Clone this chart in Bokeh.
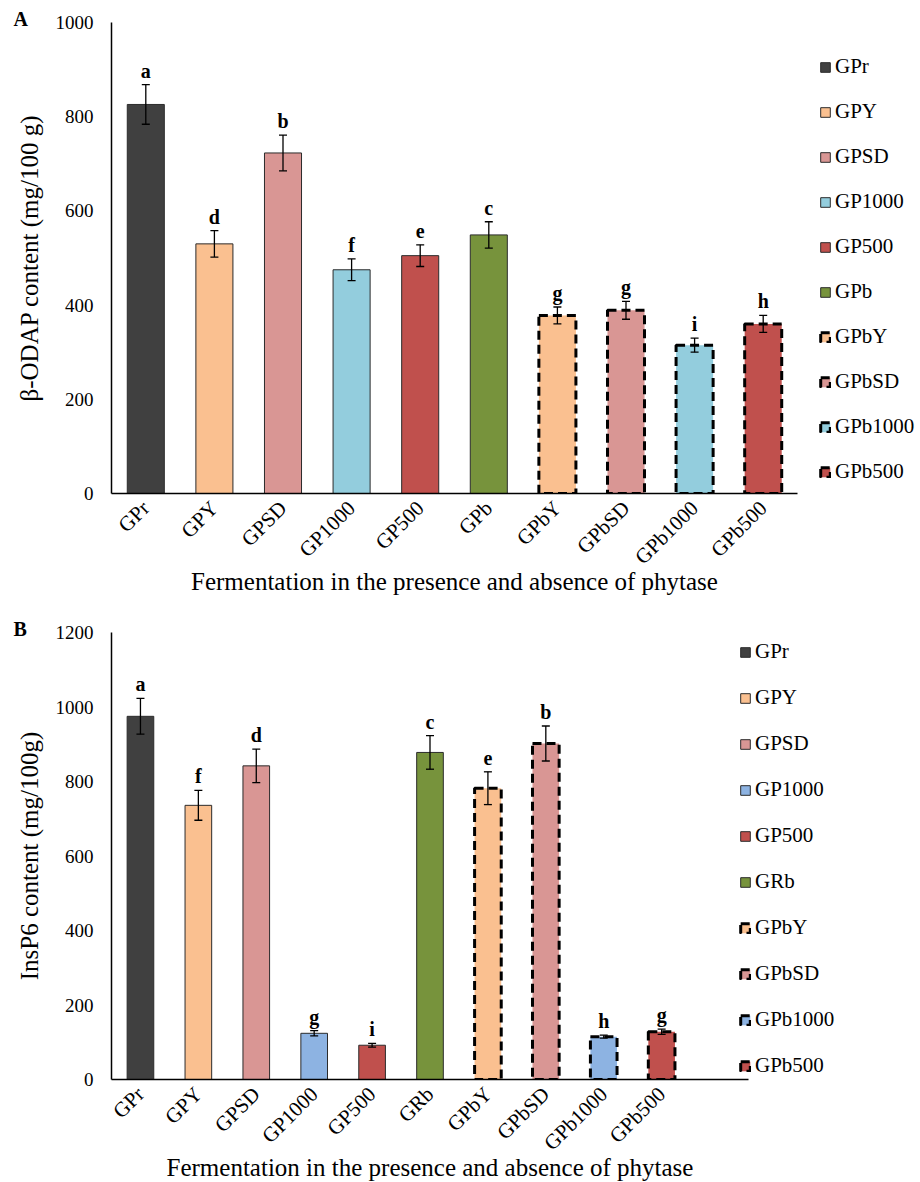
import math
from bokeh.plotting import figure
from bokeh.models import (ColumnDataSource, Range1d, FixedTicker, Whisker, TeeHead,
                          Legend, LegendItem, Title)
from bokeh.layouts import column
from bokeh.embed import file_html
from bokeh.resources import INLINE
from bokeh.core.properties import value

# ---------------- data ----------------
categories_a = ["GPr", "GPY", "GPSD", "GP1000", "GP500", "GPb", "GPbY", "GPbSD", "GPb1000", "GPb500"]
odap_values = [826, 530, 723, 475, 505, 549, 378, 389, 315, 360]
odap_errors = [42, 28, 38, 23, 23, 28, 18, 19, 15, 18]
odap_letters = ["a", "d", "b", "f", "e", "c", "g", "g", "i", "h"]

categories_b = ["GPr", "GPY", "GPSD", "GP1000", "GP500", "GRb", "GPbY", "GPbSD", "GPb1000", "GPb500"]
insp6_values = [975, 736, 842, 124, 92, 878, 782, 902, 115, 128]
insp6_errors = [48, 40, 45, 7, 5, 45, 44, 47, 4, 7]
insp6_letters = ["a", "f", "d", "g", "i", "c", "e", "b", "h", "g"]

colors_a = ["#404040", "#FAC090", "#D99694", "#93CDDD", "#C0504D", "#77933C",
            "#FAC090", "#D99694", "#93CDDD", "#C0504D"]
colors_b = ["#404040", "#FAC090", "#D99694", "#8DB3E2", "#C0504D", "#77933C",
            "#FAC090", "#D99694", "#8DB3E2", "#C0504D"]
with_phytase = [False, False, False, False, False, False, True, True, True, True]

FONT = "Liberation Serif"
PAGE_W = 920
LEFT = 111


def make_chart(cats, vals, errs, letters, colors, ymax, ylabel, panel,
               frame_w, frame_h, n_slots, bar_w, min_top, leg_x, leg_top, leg_spacing):
    n = len(cats)
    xs = list(range(1, n + 1))
    data = dict(
        x=xs, top=vals, err=errs,
        upper=[v + e for v, e in zip(vals, errs)],
        lower=[v - e for v, e in zip(vals, errs)],
        letter=letters, color=colors, name=cats,
    )
    src = ColumnDataSource(data)
    solid_idx = [i for i in range(n) if not with_phytase[i]]
    dash_idx = [i for i in range(n) if with_phytase[i]]
    src_solid = ColumnDataSource({k: [v[i] for i in solid_idx] for k, v in data.items()})
    src_dash = ColumnDataSource({k: [v[i] for i in dash_idx] for k, v in data.items()})

    p = figure(frame_width=frame_w, frame_height=frame_h,
               x_range=Range1d(0.5, n_slots + 0.5), y_range=Range1d(0, ymax),
               output_backend="svg", toolbar_location=None,
               min_border_left=LEFT, min_border_right=PAGE_W - LEFT - frame_w,
               min_border_top=min_top, min_border_bottom=0)
    p.outline_line_color = None
    p.xgrid.grid_line_color = None
    p.ygrid.grid_line_color = None
    p.background_fill_color = "white"
    p.border_fill_color = "white"

    r_solid = p.vbar(x="x", top="top", width=bar_w, bottom=0, source=src_solid,
                     fill_color="color", line_color="#2b2b2b", line_width=1)
    r_dash = p.vbar(x="x", top="top", width=bar_w, bottom=0, source=src_dash,
                    fill_color="color", line_color="black", line_width=3,
                    line_dash="9 5")

    wk = Whisker(base="x", upper="upper", lower="lower", source=src,
                 line_color="black", line_width=1.3,
                 upper_head=TeeHead(size=8, line_color="black", line_width=1.3),
                 lower_head=TeeHead(size=8, line_color="black", line_width=1.3))
    wk.level = "annotation"
    p.add_layout(wk)

    p.text(x="x", y="upper", text="letter", source=src,
           text_font=value(FONT), text_font_style="bold", text_font_size="20px",
           text_align="center", text_baseline="alphabetic", y_offset=-14,
           text_color="black")

    # axes
    xa = p.xaxis[0]
    xa.ticker = FixedTicker(ticks=xs)
    xa.major_label_overrides = {x: c for x, c in zip(xs, cats)}
    xa.major_label_orientation = math.pi / 4
    xa.major_tick_line_color = None
    xa.major_tick_out = 0
    xa.major_tick_in = 0
    xa.minor_tick_line_color = None
    xa.axis_line_color = "black"
    xa.axis_line_width = 1.5
    xa.major_label_text_font = FONT
    xa.major_label_text_font_size = "21px"
    xa.major_label_text_color = "black"
    xa.major_label_standoff = 11
    xa.axis_label = "Fermentation in the presence and absence of phytase"
    xa.axis_label_text_font = FONT
    xa.axis_label_text_font_size = "25px"
    xa.axis_label_text_font_style = "normal"
    xa.axis_label_text_color = "black"
    xa.axis_label_standoff = -13

    ya = p.yaxis[0]
    ya.ticker = FixedTicker(ticks=list(range(0, ymax + 1, 200)))
    ya.major_tick_line_color = None
    ya.major_tick_out = 0
    ya.major_tick_in = 0
    ya.minor_tick_line_color = None
    ya.axis_line_color = "black"
    ya.axis_line_width = 1.5
    ya.major_label_text_font = FONT
    ya.major_label_text_font_size = "19px"
    ya.major_label_text_color = "black"
    ya.major_label_standoff = 18
    ya.axis_label = ylabel
    ya.axis_label_text_font = FONT
    ya.axis_label_text_font_size = "25px"
    ya.axis_label_text_font_style = "normal"
    ya.axis_label_text_color = "black"
    ya.axis_label_standoff = 10

    items = []
    for k, i in enumerate(solid_idx):
        items.append(LegendItem(label=cats[i], renderers=[r_solid], index=k))
    for k, i in enumerate(dash_idx):
        items.append(LegendItem(label=cats[i], renderers=[r_dash], index=k))
    n_items = len(items)
    leg_h = n_items * 24 + (n_items - 1) * leg_spacing
    leg = Legend(items=items, location=(leg_x, frame_h - leg_top - leg_h),
                 border_line_color=None, background_fill_alpha=0,
                 padding=0, margin=0, glyph_width=12, glyph_height=12,
                 label_standoff=4, spacing=leg_spacing, label_height=24,
                 label_text_font=FONT, label_text_font_size="21px",
                 label_text_font_style="normal",
                 label_text_color="black", label_text_baseline="middle")
    p.add_layout(leg, "right")

    p.add_layout(Title(text=panel, align="left", offset=-98, standoff=-14,
                       text_font=FONT, text_font_style="bold",
                       text_font_size="20px", text_color="black"), "above")
    return p


p1 = make_chart(categories_a, odap_values, odap_errors, odap_letters, colors_a, 1000,
                "β-ODAP content (mg/100 g)", "A", 686, 471, 10, 0.54, 22,
                22, 42, 20)
p2 = make_chart(categories_b, insp6_values, insp6_errors, insp6_letters, colors_b, 1200,
                "InsP6 content (mg/100g)", "B", 637, 447, 11, 0.46, 35,
                -9, 17, 21)

layout = column(p1, p2, spacing=0)
open("out.html", "w").write(file_html(layout, INLINE))
